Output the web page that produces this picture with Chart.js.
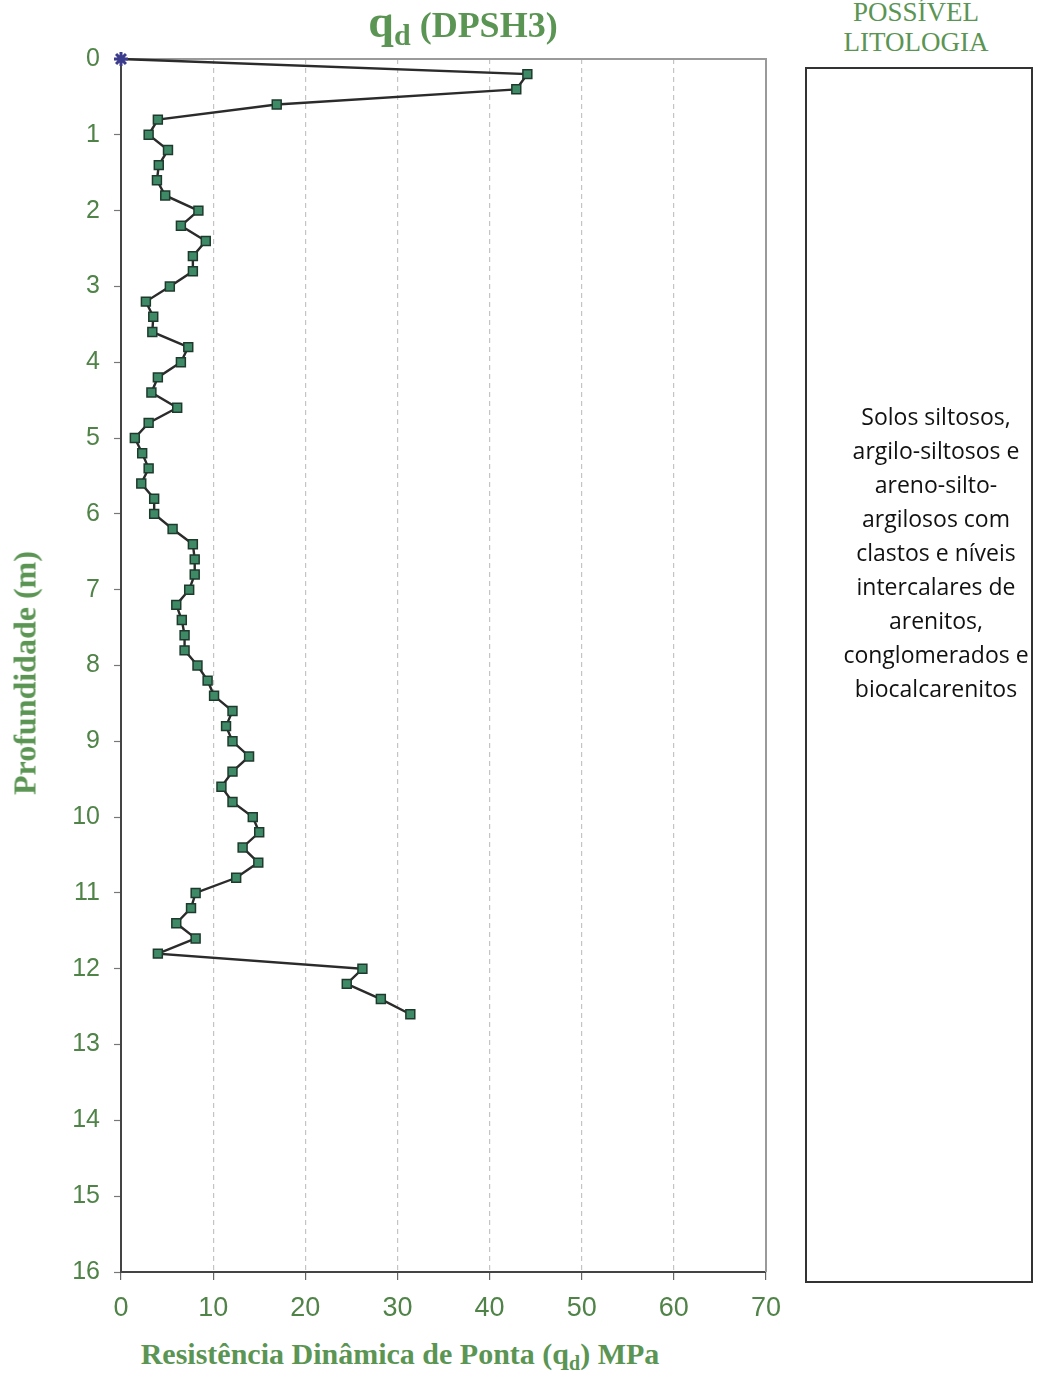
<!DOCTYPE html>
<html>
<head>
<meta charset="utf-8">
<script src="https://cdn.jsdelivr.net/npm/chart.js@4.4.1/dist/chart.umd.min.js"></script>
<style>
  html, body { margin: 0; padding: 0; background: #fff; }
  body { width: 1039px; height: 1376px; position: relative; overflow: hidden; }
  #wrap { position: absolute; left: 0; top: 0; width: 800px; height: 1330px; }
  .green { color: #5b9553; }
  #title {
    position: absolute; left: 263px; width: 400px; top: -5px; text-align: center;
    font-family: "Liberation Serif", "DejaVu Serif", serif; font-weight: bold; font-size: 36px;
  }
  #title .q { font-size: 46px; }
  #title sub { font-size: 30px; vertical-align: -8px; }
  #ytitle {
    position: absolute; left: 25px; top: 673px; transform: translate(-50%, -50%) rotate(-90deg);
    white-space: nowrap; font-family: "Liberation Serif", serif; font-weight: bold; font-size: 32px;
  }
  #xtitle {
    position: absolute; left: 100px; width: 600px; top: 1337px; text-align: center;
    white-space: nowrap; font-family: "Liberation Serif", serif; font-weight: bold; font-size: 30px;
  }
  #xtitle sub { font-size: 20px; vertical-align: -6px; }
  #lithoHead {
    position: absolute; left: 816px; width: 200px; top: -3px; text-align: center;
    font-family: "Liberation Serif", serif; font-size: 27px; line-height: 30px;
  }
  #box {
    position: absolute; left: 805px; top: 67px; width: 224px; height: 1212px;
    border: 2px solid #333;
  }
  #lithoText {
    position: absolute; left: 786px; width: 300px; top: 399px; text-align: center; white-space: nowrap;
    font-family: "Open Sans", "Lato", sans-serif; font-size: 23px; font-weight: 500;
    line-height: 34px; color: #111;
  }
</style>
</head>
<body>
<div id="wrap"><canvas id="chart"></canvas></div>
<div id="title" class="green"><span class="q">q</span><sub>d</sub> (DPSH3)</div>
<div id="ytitle" class="green">Profundidade (m)</div>
<div id="xtitle" class="green">Resistência Dinâmica de Ponta (q<sub>d</sub>) MPa</div>
<div id="lithoHead" class="green">POSSÍVEL<br>LITOLOGIA</div>
<div id="box"></div>
<div id="lithoText">Solos siltosos,<br>argilo-siltosos e<br>areno-silto-<br>argilosos com<br>clastos e níveis<br>intercalares de<br>arenitos,<br>conglomerados e<br>biocalcarenitos</div>
<script>
// depth (m) and dynamic point resistance qd (MPa), DPSH3
const depths = [0, 0.2, 0.4, 0.6, 0.8, 1.0, 1.2, 1.4, 1.6, 1.8, 2.0,
  2.2, 2.4, 2.6, 2.8, 3.0, 3.2, 3.4, 3.6, 3.8, 4.0,
  4.2, 4.4, 4.6, 4.8, 5.0, 5.2, 5.4, 5.6, 5.8, 6.0,
  6.2, 6.4, 6.6, 6.8, 7.0, 7.2, 7.4, 7.6, 7.8, 8.0,
  8.2, 8.4, 8.6, 8.8, 9.0, 9.2, 9.4, 9.6, 9.8, 10.0,
  10.2, 10.4, 10.6, 10.8, 11.0, 11.2, 11.4, 11.6, 11.8, 12.0,
  12.2, 12.4, 12.6];
const qd = [0, 44.1, 42.9, 16.9, 4.0, 3.0, 5.1, 4.1, 3.9, 4.8, 8.4,
  6.5, 9.2, 7.8, 7.8, 5.3, 2.7, 3.5, 3.4, 7.3, 6.5,
  4.0, 3.3, 6.1, 3.0, 1.5, 2.3, 3.0, 2.2, 3.6, 3.6,
  5.6, 7.8, 8.0, 8.0, 7.4, 6.0, 6.6, 6.9, 6.9, 8.3,
  9.4, 10.1, 12.1, 11.4, 12.1, 13.9, 12.1, 10.9, 12.1, 14.3,
  15.0, 13.2, 14.9, 12.5, 8.1, 7.6, 6.0, 8.1, 4.0, 26.2,
  24.5, 28.2, 31.4];
const xTicks = [0, 10, 20, 30, 40, 50, 60, 70];
const yTicks = [0, 1, 2, 3, 4, 5, 6, 7, 8, 9, 10, 11, 12, 13, 14, 15, 16];

const points = depths.map((d, i) => ({ x: qd[i], y: d }));

// grey frame on top and right of the plot area
const framePlugin = {
  id: "frame",
  beforeDatasetsDraw(chart) {
    const { ctx, chartArea: a } = chart;
    ctx.save();
    ctx.strokeStyle = "#9a9a9a";
    ctx.lineWidth = 2;
    ctx.beginPath();
    ctx.moveTo(a.left, a.top);
    ctx.lineTo(a.right, a.top);
    ctx.lineTo(a.right, a.bottom);
    ctx.stroke();
    ctx.restore();
  }
};

const labelColor = "#4f8347";

new Chart(document.getElementById("chart"), {
  type: "scatter",
  data: {
    datasets: [{
      data: points,
      showLine: true,
      borderColor: "#2b2b2b",
      borderWidth: 2.4,
      pointStyle: (c) => c.dataIndex === 0 ? "star" : "rect",
      pointRadius: (c) => c.dataIndex === 0 ? 7 : 6.3,
      pointBorderWidth: (c) => c.dataIndex === 0 ? 3 : 1.5,
      pointBackgroundColor: (c) => c.dataIndex === 0 ? "#3c3c8c" : "#3f8a66",
      pointBorderColor: (c) => c.dataIndex === 0 ? "#3c3c8c" : "#1e3a2c",
      clip: false
    }]
  },
  options: {
    responsive: true,
    maintainAspectRatio: false,
    animation: false,
    plugins: { legend: { display: false }, tooltip: { enabled: false } },
    layout: { padding: { left: 0, top: 59, right: 34, bottom: 0 } },
    scales: {
      x: {
        type: "linear",
        min: 0, max: 70,
        afterBuildTicks: (s) => { s.ticks = xTicks.map(v => ({ value: v })); },
        afterFit: (s) => { s.height = 58; },
        ticks: {
          color: labelColor, padding: 12,
          font: { family: "Liberation Sans, Arial, sans-serif", size: 27 }
        },
        grid: {
          color: (c) => (c.tick && c.tick.value > 0 && c.tick.value < 70) ? "#c4c4c4" : "rgba(0,0,0,0)",
          lineWidth: 1.2,
          drawTicks: true, tickLength: 8, tickColor: "#666", tickWidth: 1.2
        },
        border: { display: true, color: "#444", width: 2, dash: [5, 4] }
      },
      y: {
        type: "linear",
        reverse: true,
        min: 0, max: 16,
        afterBuildTicks: (s) => { s.ticks = yTicks.map(v => ({ value: v })); },
        afterFit: (s) => { s.width = 121; },
        ticks: {
          color: labelColor, padding: 14,
          font: { family: "Liberation Sans, Arial, sans-serif", size: 25 }
        },
        grid: {
          drawOnChartArea: false,
          drawTicks: true, tickLength: 7, tickColor: "#777", tickWidth: 1.2
        },
        border: { display: true, color: "#444", width: 2 }
      }
    }
  },
  plugins: [framePlugin]
});
</script>
</body>
</html>
